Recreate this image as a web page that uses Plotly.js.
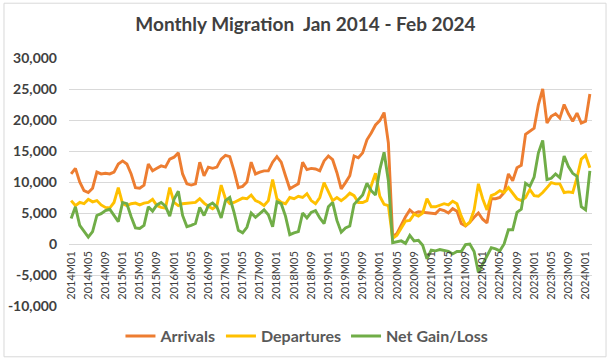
<!DOCTYPE html>
<html>
<head>
<meta charset="utf-8">
<script src="https://cdn.plot.ly/plotly-3.0.1.min.js"></script>
<style>
  html, body { margin: 0; padding: 0; background: #ffffff; }
  #chart { width: 611px; height: 364px; }
</style>
</head>
<body>
<div id="chart"></div>
<script>
const categories = [
  "2014M01","2014M02","2014M03","2014M04","2014M05","2014M06","2014M07","2014M08","2014M09","2014M10","2014M11","2014M12",
  "2015M01","2015M02","2015M03","2015M04","2015M05","2015M06","2015M07","2015M08","2015M09","2015M10","2015M11","2015M12",
  "2016M01","2016M02","2016M03","2016M04","2016M05","2016M06","2016M07","2016M08","2016M09","2016M10","2016M11","2016M12",
  "2017M01","2017M02","2017M03","2017M04","2017M05","2017M06","2017M07","2017M08","2017M09","2017M10","2017M11","2017M12",
  "2018M01","2018M02","2018M03","2018M04","2018M05","2018M06","2018M07","2018M08","2018M09","2018M10","2018M11","2018M12",
  "2019M01","2019M02","2019M03","2019M04","2019M05","2019M06","2019M07","2019M08","2019M09","2019M10","2019M11","2019M12",
  "2020M01","2020M02","2020M03","2020M04","2020M05","2020M06","2020M07","2020M08","2020M09","2020M10","2020M11","2020M12",
  "2021M01","2021M02","2021M03","2021M04","2021M05","2021M06","2021M07","2021M08","2021M09","2021M10","2021M11","2021M12",
  "2022M01","2022M02","2022M03","2022M04","2022M05","2022M06","2022M07","2022M08","2022M09","2022M10","2022M11","2022M12",
  "2023M01","2023M02","2023M03","2023M04","2023M05","2023M06","2023M07","2023M08","2023M09","2023M10","2023M11","2023M12",
  "2024M01","2024M02"
];

const arrivals = [
  11300,12200,10000,8600,8300,9000,11600,11300,11400,11300,11600,12900,
  13400,12900,11300,9100,9000,9500,12900,11800,12200,12600,12400,13700,
  14000,14700,11300,9700,9500,9700,13200,11000,12400,12200,12400,13700,
  14300,14100,11800,9100,9300,10000,13200,11300,11600,11800,11800,13200,
  14100,13200,11000,8900,9300,9700,13200,12000,12200,12100,11800,13400,
  14200,13600,11500,8900,9900,11000,14200,13900,14700,16800,17900,19200,
  19900,21200,16300,1200,1700,3100,4400,5500,4900,5200,5100,5000,
  5000,4900,5600,5400,5000,5700,5300,3300,2900,3500,4300,5000,
  4000,3400,7300,7300,7500,8300,11300,10200,12300,12700,17700,18200,
  18700,22500,25000,19500,20600,21000,20300,22500,21000,19800,21100,19500,
  19800,24200
];

const departures = [
  7000,6200,6700,6500,7200,6800,7000,6300,5900,5800,6700,9100,
  6500,6200,6500,6600,6300,6600,6700,7200,6200,5900,5800,9100,
  6700,6200,6500,6600,6600,6700,7300,6600,6100,5700,6200,9500,
  7300,6500,6700,7000,7400,7300,7900,7000,6700,6200,7000,10400,
  7300,6700,6500,7500,7300,7700,7500,8100,7000,6500,7500,9900,
  8300,7000,7500,7000,7500,8200,7800,6700,6700,7000,9400,11400,
  7700,6400,6200,900,1400,2500,3700,3800,4800,4500,5000,7300,
  6000,6000,6200,6500,6300,6900,6500,4500,3000,3500,5500,9700,
  7300,5500,7800,8100,8600,8300,9100,8100,7300,7000,7500,8800,
  7800,7700,8300,9100,9900,9700,9700,8300,8400,8300,10700,13700,
  14300,12300
];

const netGainLoss = [
  4100,6000,3000,2000,1100,2000,4600,4900,5400,5600,4700,3600,
  6700,6500,4400,2600,2500,3000,6000,5300,6300,6700,6100,4500,
  7200,8500,4600,2800,3000,3300,5900,4600,6200,6600,6000,4200,
  7000,7500,5100,2200,1800,2700,5000,4300,4900,5500,4700,2800,
  6800,6500,4500,1500,1800,2000,5000,4200,5100,5400,4200,3300,
  6000,6700,3800,1900,2600,2900,6400,7100,7900,9800,8600,7900,
  12000,14800,10200,200,400,500,100,1400,500,600,-200,-2400,
  -1000,-1100,-900,-1000,-1200,-1600,-1200,-1200,-100,0,-1200,-4600,
  -3300,-2000,-600,-800,-1100,0,2300,2300,5100,5600,9800,9300,
  10800,14700,16700,10400,10600,11300,10700,14200,12500,11400,10900,6000,
  5500,11800
];

const seriesNames = ["Arrivals", "Departures", "Net Gain/Loss"];
const xTickLabels = categories.filter((c, i) => i % 4 === 0);
const yTickValues = [-10000, -5000, 0, 5000, 10000, 15000, 20000, 25000, 30000];
const yTickLabels = ["-10,000", "-5,000", "0", "5,000", "10,000", "15,000", "20,000", "25,000", "30,000"];
const titleText = "Monthly Migration\u00a0 Jan 2014 - Feb 2024";

const colors = ["#ED7D31", "#FFC000", "#70AD47"];
const seriesData = [arrivals, departures, netGainLoss];

const traces = seriesData.map((vals, k) => ({
  type: "scatter",
  mode: "lines",
  name: seriesNames[k],
  x: categories,
  y: vals,
  line: { color: colors[k], width: 2.9 },
  hoverinfo: "skip"
}));

const layout = {
  width: 611,
  height: 364,
  margin: { l: 69, r: 19, t: 58, b: 57 },
  paper_bgcolor: "#ffffff",
  plot_bgcolor: "#ffffff",
  font: { family: "Lato, 'Open Sans', sans-serif", color: "#404040" },
  title: {
    text: titleText,
    x: 0.5, xref: "container", xanchor: "center",
    y: 1 - 24 / 364, yref: "container", yanchor: "middle",
    font: { family: "Lato", size: 19, color: "#404040", weight: 700 }
  },
  xaxis: {
    type: "category",
    range: [-0.5, 121.5],
    tickmode: "array",
    tickvals: xTickLabels,
    ticktext: xTickLabels,
    tickangle: -90,
    tickfont: { family: "Lato", size: 11, color: "#404040" },
    showgrid: false,
    showline: false,
    zeroline: false,
    ticks: "",
    anchor: "free",
    position: 0.25,
    ticklabelstandoff: 4,
    fixedrange: true
  },
  yaxis: {
    range: [-10000, 30000],
    tickmode: "array",
    tickvals: yTickValues,
    ticktext: yTickLabels,
    tickfont: { family: "Lato", size: 14, color: "#404040", weight: 700 },
    gridcolor: "#D9D9D9",
    gridwidth: 1,
    zeroline: true,
    zerolinecolor: "#D9D9D9",
    zerolinewidth: 1,
    showline: false,
    ticks: "",
    ticklabelstandoff: 11,
    fixedrange: true
  },
  legend: {
    orientation: "h",
    x: 0.455, xanchor: "center",
    y: -0.117, yanchor: "middle",
    font: { family: "Lato", size: 16, color: "#595959", weight: 700 },
    itemwidth: 30,
    bgcolor: "rgba(0,0,0,0)"
  },
  shapes: [{
    type: "rect", xref: "paper", yref: "paper",
    x0: -0.1243, x1: 1.0268, y0: -0.2048, y1: 1.2209,
    line: { color: "#D9D9D9", width: 1 },
    fillcolor: "rgba(0,0,0,0)", layer: "below"
  }],
  showlegend: true
};

Plotly.newPlot("chart", traces, layout, { displayModeBar: false, staticPlot: true });
</script>
</body>
</html>
